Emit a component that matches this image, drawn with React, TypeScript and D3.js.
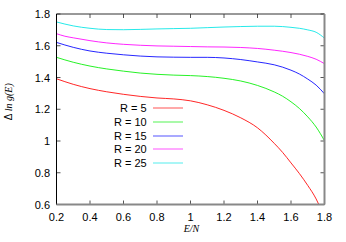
import React from "react";
import * as d3 from "d3";

const xTicks = [0.2, 0.4, 0.6, 0.8, 1, 1.2, 1.4, 1.6, 1.8];
const yTicks = [0.6, 0.8, 1, 1.2, 1.4, 1.6, 1.8];
const xTickLabels = ["0.2", "0.4", "0.6", "0.8", "1", "1.2", "1.4", "1.6", "1.8"];
const yTickLabels = ["0.6", "0.8", "1", "1.2", "1.4", "1.6", "1.8"];

const labels = ["R = 5", "R = 10", "R = 15", "R = 20", "R = 25"];
const colors = ["#ff0000", "#00ee00", "#0000ff", "#ff00ff", "#00e5e5"];

const xR5 = [0.2, 0.3, 0.4, 0.5, 0.6, 0.7, 0.8, 0.9, 1.0, 1.1, 1.2, 1.3, 1.4, 1.5, 1.55, 1.6, 1.65, 1.7, 1.75, 1.766];
const yR5 = [1.392, 1.357, 1.33, 1.31, 1.294, 1.281, 1.271, 1.265, 1.253, 1.228, 1.193, 1.146, 1.083, 0.985, 0.928, 0.862, 0.795, 0.72, 0.635, 0.6];

const xR10 = [0.2, 0.3, 0.4, 0.5, 0.6, 0.7, 0.8, 0.9, 1.0, 1.1, 1.2, 1.3, 1.4, 1.5, 1.55, 1.6, 1.65, 1.7, 1.75, 1.8];
const yR10 = [1.527, 1.496, 1.472, 1.454, 1.44, 1.428, 1.42, 1.415, 1.412, 1.406, 1.395, 1.378, 1.35, 1.309, 1.282, 1.247, 1.205, 1.152, 1.088, 1.002];

const xR15 = [0.2, 0.3, 0.4, 0.5, 0.6, 0.7, 0.8, 0.9, 1.0, 1.1, 1.2, 1.3, 1.4, 1.5, 1.6, 1.65, 1.7, 1.75, 1.8];
const yR15 = [1.621, 1.59, 1.567, 1.553, 1.543, 1.535, 1.53, 1.528, 1.527, 1.527, 1.523, 1.513, 1.498, 1.48, 1.446, 1.422, 1.39, 1.352, 1.297];

const xR20 = [0.2, 0.25, 0.3, 0.4, 0.5, 0.6, 0.7, 0.8, 0.9, 1.0, 1.1, 1.2, 1.3, 1.4, 1.5, 1.6, 1.7, 1.75, 1.8];
const yR20 = [1.676, 1.66, 1.65, 1.632, 1.618, 1.609, 1.603, 1.599, 1.597, 1.595, 1.593, 1.592, 1.589, 1.583, 1.572, 1.557, 1.533, 1.515, 1.487];

const xR25 = [0.2, 0.3, 0.4, 0.5, 0.6, 0.7, 0.8, 0.9, 1.0, 1.1, 1.2, 1.3, 1.4, 1.5, 1.6, 1.65, 1.7, 1.75, 1.8];
const yR25 = [1.75, 1.725, 1.71, 1.702, 1.701, 1.703, 1.706, 1.708, 1.71, 1.714, 1.718, 1.721, 1.723, 1.723, 1.716, 1.71, 1.7, 1.685, 1.648];

const seriesX = [xR5, xR10, xR15, xR20, xR25];
const seriesY = [yR5, yR10, yR15, yR20, yR25];

const W = 346;
const H = 242;
const L = 56.5, R = 324.5, T = 14, B = 204.5;

export default function App() {
  const x = d3.scaleLinear().domain([0.2, 1.8]).range([L, R]);
  const y = d3.scaleLinear().domain([0.6, 1.8]).range([B, T]);
  const line = d3
    .line<[number, number]>()
    .x((d) => x(d[0]))
    .y((d) => y(d[1]))
    .curve(d3.curveMonotoneX);

  const sans = "'Liberation Sans', Arial, sans-serif";
  const serif = "'Liberation Serif', 'Times New Roman', serif";

  return (
    <svg
      width={W}
      height={H}
      style={{ position: "absolute", left: 0, top: 0, background: "#fff" }}
    >
      <defs>
        <clipPath id="plot">
          <rect x={L} y={T} width={R - L} height={B - T} />
        </clipPath>
      </defs>
      {xTicks.map((t, i) => (
        <g key={"xt" + i}>
          <line x1={x(t)} x2={x(t)} y1={B} y2={B - 4} stroke="#555" strokeWidth={1} />
          <line x1={x(t)} x2={x(t)} y1={T} y2={T + 4} stroke="#555" strokeWidth={1} />
          <text
            x={x(t)}
            y={B + 16.5}
            textAnchor="middle"
            fontFamily={sans}
            fontSize={11}
            fill="#000"
          >
            {xTickLabels[i]}
          </text>
        </g>
      ))}
      {yTicks.map((t, i) => (
        <g key={"yt" + i}>
          <line x1={L} x2={L + 4} y1={y(t)} y2={y(t)} stroke="#555" strokeWidth={1} />
          <line x1={R} x2={R - 4} y1={y(t)} y2={y(t)} stroke="#555" strokeWidth={1} />
          <text
            x={50}
            y={y(t) + 4}
            textAnchor="end"
            fontFamily={sans}
            fontSize={11}
            fill="#000"
          >
            {yTickLabels[i]}
          </text>
        </g>
      ))}
      <g clipPath="url(#plot)">
        {seriesX.map((xs, i) => (
          <path
            key={"s" + i}
            d={line(xs.map((v, j) => [v, seriesY[i][j]] as [number, number])) || ""}
            fill="none"
            stroke={colors[i]}
            strokeWidth={1}
            strokeOpacity={0.85}
          />
        ))}
      </g>
      <line x1={L} x2={R} y1={T} y2={T} stroke="#333" strokeWidth={1} />
      <line x1={L} x2={L} y1={T} y2={B} stroke="#000" strokeWidth={1} />
      <line x1={L} x2={R} y1={B} y2={B} stroke="#888" strokeWidth={2} />
      <line x1={R} x2={R} y1={T} y2={B} stroke="#888" strokeWidth={2} />
      {labels.map((lab, i) => {
        const ly = 108.3 + i * 13.7;
        return (
          <g key={"lg" + i}>
            <text
              x={146.7}
              y={ly + 4}
              textAnchor="end"
              fontFamily={sans}
              fontSize={11}
              fill="#000"
            >
              {lab}
            </text>
            <line
              x1={153}
              x2={183}
              y1={Math.round(ly)}
              y2={Math.round(ly)}
              stroke={colors[i]}
              strokeWidth={1.5}
              strokeOpacity={0.45}
            />
          </g>
        );
      })}
      <text
        x={191.5}
        y={231.5}
        textAnchor="middle"
        fontFamily={serif}
        fontStyle="italic"
        fontSize={10}
        fill="#000"
      >
        E/N
      </text>
      <text
        transform="translate(11.5,101.7) rotate(-90)"
        textAnchor="middle"
        fontSize={10}
        fill="#000"
      >
        <tspan fontFamily={sans}>Δ </tspan>
        <tspan fontFamily={serif} fontStyle="italic">ln g(E)</tspan>
      </text>
    </svg>
  );
}
